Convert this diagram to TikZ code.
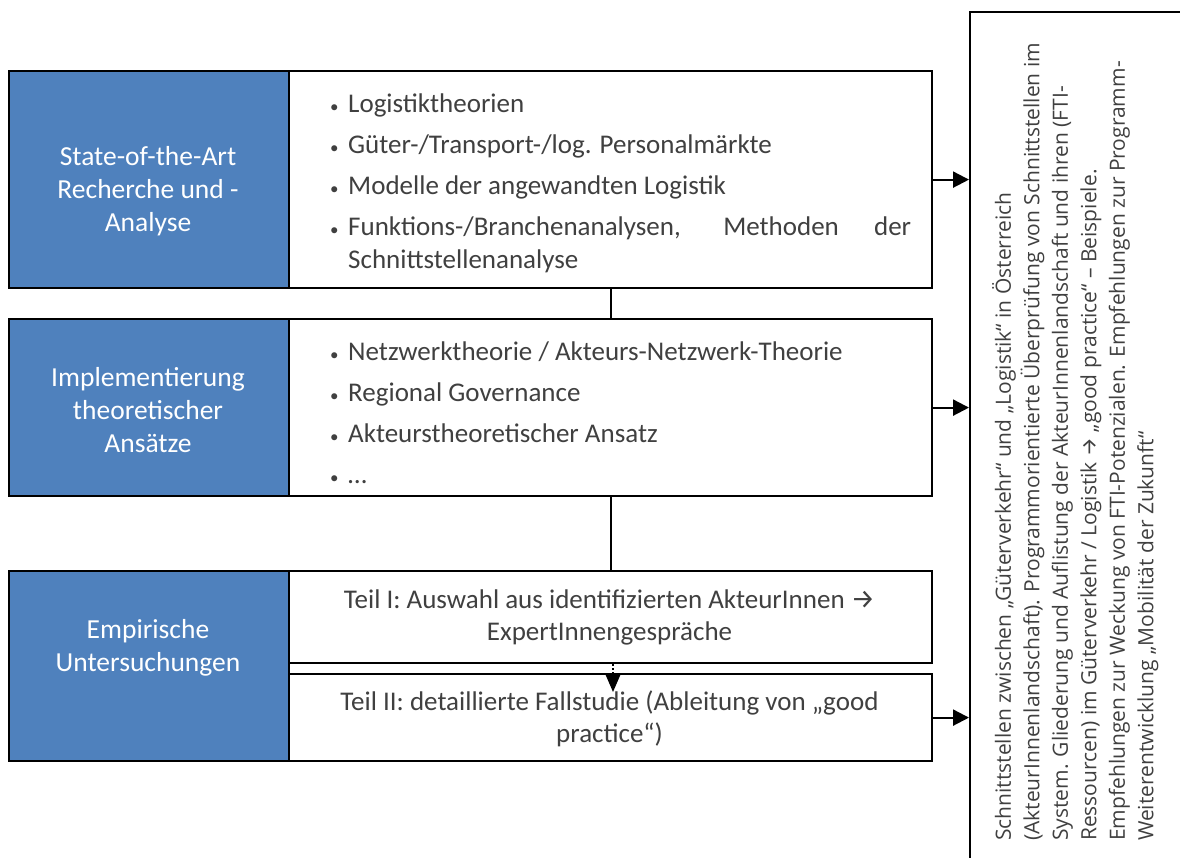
\documentclass[tikz,border=0pt]{standalone}
\usepackage{fontspec}
\setmainfont{Carlito}
\newfontfamily\rfont{Open Sans}
\newfontfamily\symfont{Fira Sans}
\usetikzlibrary{arrows.meta}
\definecolor{boxblue}{HTML}{4F81BD}
\definecolor{txt}{HTML}{404040}
\newcommand{\itm}[1]{\hangindent=17pt\hangafter=1\noindent\makebox[17pt][l]{\hspace{-1pt}{\fontsize{17}{17}\selectfont •}}#1\par}
\begin{document}
\begin{tikzpicture}[x=1pt,y=-1pt,
  bluebox/.style={draw=black, line width=2.2pt, fill=boxblue, anchor=north west, inner sep=0pt},
  whitebox/.style={draw=black, line width=2.2pt, fill=white, anchor=north west, inner sep=0pt},
  lefttext/.style={text=white, align=center, inner sep=0pt, font=\fontsize{27.5}{33}\selectfont},
  listtext/.style={text=txt, anchor=north west, inner sep=0pt, text width=580pt, align=justify, font=\fontsize{27}{33}\selectfont},
  teiltext/.style={text=txt, align=center, inner sep=0pt, font=\fontsize{27}{32}\selectfont},
  rtext/.style={text=txt, align=left, inner sep=0pt, font=\rfont\fontsize{21}{28.5}\selectfont},
  arr/.style={line width=2.2pt, -{Triangle[length=16pt,width=16pt]}},
  conn/.style={line width=2.2pt}
]
\useasboundingbox (0,0) rectangle (1180,857);
% right box
\node[whitebox, minimum width=240pt, minimum height=880pt] (r) at (969,11) {};
% blue boxes
\node[bluebox, minimum width=280pt, minimum height=217pt] (b1) at (8,70) {};
\node[bluebox, minimum width=280pt, minimum height=177pt] (b2) at (8,318) {};
\node[bluebox, minimum width=280pt, minimum height=190pt] (b3) at (8,570) {};
% white boxes
\node[whitebox, minimum width=643pt, minimum height=217pt] (w1) at (288,70) {};
\node[whitebox, minimum width=643pt, minimum height=177pt] (w2) at (288,318) {};
\node[whitebox, minimum width=643pt, minimum height=92pt] (w3a) at (288,570) {};
\node[whitebox, minimum width=643pt, minimum height=87pt] (w3b) at (288,673) {};
% left texts
\node[lefttext] (l1) at (148,191) {State-of-the-Art\\Recherche und -\\Analyse};
\node[lefttext] (l2) at (148,410) {Implementierung\\theoretischer\\Ansätze};
\node[lefttext] (l3) at (148,648) {Empirische\\Untersuchungen};
% list texts
\node[listtext] (t1) at (331,94) {\hyphenpenalty=10000\exhyphenpenalty=10000\setlength{\parskip}{8pt}%
\itm{Logistiktheorien}
\itm{Güter-/Transport-/log. Personalmärkte}
\itm{Modelle der angewandten Logistik}
\itm{Funktions-/Branchenanalysen, Methoden der Schnittstellenanalyse}};
\node[listtext] (t2) at (331,342) {\hyphenpenalty=10000\exhyphenpenalty=10000\setlength{\parskip}{8pt}%
\itm{Netzwerktheorie / Akteurs-Netzwerk-Theorie}
\itm{Regional Governance}
\itm{Akteurstheoretischer Ansatz}
\itm{…}};
% Teil texts
\node[teiltext] (t3) at (609.5,617) {Teil I: Auswahl aus identifizierten AkteurInnen {\symfont →}\\ExpertInnengespräche};
\node[teiltext] (t4) at (609.5,719) {Teil II: detaillierte Fallstudie (Ableitung von „good\\practice“)};
% right rotated text
\node[rtext, rotate=90, anchor=north west] (rt) at (992,841) {Schnittstellen zwischen „Güterverkehr“ und „Logistik“ in Österreich\\
(AkteurInnenlandschaft). Programmorientierte Überprüfung von Schnittstellen im\\
System. Gliederung und Auflistung der AkteurInnenlandschaft und ihren (FTI-\\
Ressourcen) im Güterverkehr / Logistik {\symfont →} „good practice“ – Beispiele.\\
Empfehlungen zur Weckung von FTI-Potenzialen. Empfehlungen zur Programm-\\
Weiterentwicklung „Mobilität der Zukunft“};
% connectors
\draw[conn] (w1.south) -- (w2.north);
\draw[conn] (w2.south) -- (w3a.north);
\coordinate (dtip) at (613,692);
\draw[line width=2pt, dotted] (w3a.south -| dtip) -- ([yshift=17pt]dtip);
\draw[line width=2pt, -{Triangle[length=18pt,width=15pt]}] ([yshift=18pt]dtip) -- (dtip);
\draw[arr] (w1.east) -- (w1.east -| r.west);
\draw[arr] (w2.east) -- (w2.east -| r.west);
\draw[arr] (w3b.east) -- (w3b.east -| r.west);
\end{tikzpicture}
\end{document}
